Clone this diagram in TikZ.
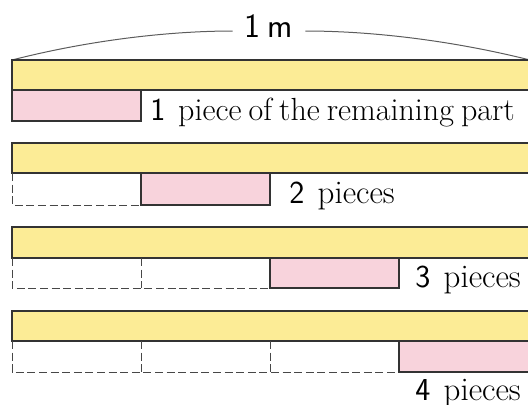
\documentclass[tikz,border=0pt]{standalone}
\usepackage{tikz}
\usetikzlibrary{positioning}
\definecolor{tapeyellow}{HTML}{FCEC96}
\definecolor{tapepink}{HTML}{F8D3DC}
\definecolor{tapeline}{HTML}{333333}
\newcommand\piecenum[1]{{\sffamily\fontsize{16}{18}\selectfont #1}\hspace{0.4em}}

\tikzset{
  tape/.style={fill=tapeyellow, draw=tapeline, line width=1.2pt},
  piece/.style={fill=tapepink, draw=tapeline, line width=1.2pt},
  cutline/.style={draw=tapeline!90, line width=0.5pt, dash pattern=on 4pt off 1.8pt},
  lbl/.style={font=\fontsize{16.5}{18}\selectfont, anchor=base west, inner sep=0pt},
  arcline/.style={draw=tapeline!80, line width=0.5pt}
}

\begin{document}
\begin{tikzpicture}[x=0.5pt, y=-0.5pt]
\useasboundingbox (0,0) rectangle (528,404);
% length of the whole tape
\coordinate (spanL) at (12,60);
\coordinate (spanR) at (530,60);
\node[font=\sffamily\fontsize{17}{19}\selectfont, inner xsep=6pt] (len) at (269,26) {1\hspace{0.2em}m};
\draw[arcline] (spanL) .. controls (90,40) and (170,31) .. ([yshift=-2.5pt]len.west);
\draw[arcline] ([yshift=-2.5pt]len.east) .. controls (370,31) and (450,40) .. (spanR);

% row 1
\draw[tape] (12,60) rectangle (536,90);
\draw[piece] (12,90) rectangle (141,121);
\node[lbl, font=\fontsize{16}{18}\selectfont] (lbl1) at (150,120)
  {\spaceskip=0.22em\piecenum{1}piece of the remaining part};

% row 2
\draw[tape] (12,143) rectangle (536,173);
\draw[cutline] (12,173) -- (12,205) -- (141,205);
\draw[piece] (141,173) rectangle (270,205);
\node[lbl] (lbl2) at (289,203) {\piecenum{2}pieces};

% row 3
\draw[tape] (12,227) rectangle (536,258);
\draw[cutline] (12,258) -- (12,288) -- (270,288);
\draw[cutline] (141,258) -- (141,288);
\draw[piece] (270,258) rectangle (399,288);
\node[lbl] (lbl3) at (415,287) {\piecenum{3}pieces};

% row 4
\draw[tape] (12,311) rectangle (536,341);
\draw[cutline] (12,341) -- (12,372) -- (399,372);
\draw[cutline] (141,341) -- (141,372);
\draw[cutline] (270,341) -- (270,372);
\draw[piece] (399,341) rectangle (536,372);
\node[lbl] (lbl4) at (415,400) {\piecenum{4}pieces};
\end{tikzpicture}
\end{document}
